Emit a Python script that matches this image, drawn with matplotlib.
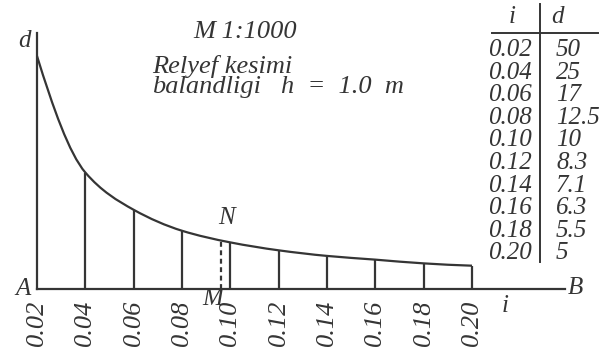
import numpy as np
import matplotlib.pyplot as plt
from matplotlib.path import Path
from matplotlib.patches import PathPatch
from matplotlib.lines import Line2D

# slope i and distance d for section height h = 1.0 m (table in the figure)
i_vals = [0.02, 0.04, 0.06, 0.08, 0.10, 0.12, 0.14, 0.16, 0.18, 0.20]
d_vals = [50, 25, 17, 12.5, 10, 8.3, 7.1, 6.3, 5.5, 5]
i_labels = ["0.02", "0.04", "0.06", "0.08", "0.10", "0.12", "0.14", "0.16", "0.18", "0.20"]
d_labels = ["50", "25", "17", "12.5", "10", "8.3", "7.1", "6.3", "5.5", "5"]
# point M on the i axis and N on the curve
mn_i = 0.096
mn_d = 10.4

INK = "#353535"
W, H = 609, 355
FONT = dict(family="Liberation Serif", style="italic", color=INK)


def fxy(px, py):
    # pixel position (from top left) -> figure fraction
    return px / W, 1 - py / H


def pchip_slopes(x, y):
    h = np.diff(x)
    dl = np.diff(y) / h
    m = np.zeros_like(y)
    for k in range(1, len(y) - 1):
        if dl[k - 1] * dl[k] > 0:
            w1 = 2 * h[k] + h[k - 1]
            w2 = h[k] + 2 * h[k - 1]
            m[k] = (w1 + w2) / (w1 / dl[k - 1] + w2 / dl[k])
    m[0] = ((2 * h[0] + h[1]) * dl[0] - h[0] * dl[1]) / (h[0] + h[1])
    m[-1] = ((2 * h[-1] + h[-2]) * dl[-1] - h[-1] * dl[-2]) / (h[-1] + h[-2])
    return m


def smooth_path(x, y):
    x = np.asarray(x, float)
    y = np.asarray(y, float)
    m = pchip_slopes(x, y)
    verts = [(x[0], y[0])]
    codes = [Path.MOVETO]
    for k in range(len(x) - 1):
        h = x[k + 1] - x[k]
        verts += [(x[k] + h / 3, y[k] + m[k] * h / 3),
                  (x[k + 1] - h / 3, y[k + 1] - m[k + 1] * h / 3),
                  (x[k + 1], y[k + 1])]
        codes += [Path.CURVE4] * 3
    return Path(verts, codes)


fig = plt.figure(figsize=(W / 100, H / 100), dpi=100)
fig.patch.set_facecolor("white")

x0, y0 = fxy(37, 289)
x1, y1 = fxy(565, 33)
ax = fig.add_axes([x0, y0, x1 - x0, y1 - y0])
ax.set_xlim(0.02, 0.02 + (565 - 37) / 2416.7)
ax.set_ylim(0, (289 - 33) / 4.66)
ax.set_facecolor("none")

for s in ["top", "right"]:
    ax.spines[s].set_visible(False)
for s in ["left", "bottom"]:
    ax.spines[s].set_color(INK)
    ax.spines[s].set_linewidth(1.6)

ax.set_yticks([])
ax.set_xticks(i_vals)
ax.set_xticklabels(i_labels, rotation=90, fontsize=19, **FONT)
ax.tick_params(axis="x", length=0, pad=8)

# curve d(i)
ax.add_patch(PathPatch(smooth_path(i_vals, d_vals), fill=False,
                       edgecolor=INK, lw=1.6, clip_on=False))
# ordinates
ax.vlines(i_vals[1:], 0, d_vals[1:], color=INK, lw=1.6)
ax.vlines(mn_i, 0, mn_d, color=INK, lw=1.6, linestyles=(0, (2.2, 1.6)))

# point labels
ax.annotate("N", (mn_i, mn_d), xytext=(4, 16), textcoords="offset points",
            ha="center", va="center", fontsize=18, **FONT)
ax.annotate("M", (mn_i, 0), xytext=(-6, -7), textcoords="offset points",
            ha="center", va="center", fontsize=18, **FONT)
ax.text(-0.012, 0.0, "A", transform=ax.transAxes, ha="right", va="center",
        fontsize=18, **FONT)
ax.text(1.005, 0.005, "B", transform=ax.transAxes, ha="left", va="center",
        fontsize=18, **FONT)
ax.text(0.887, -0.065, "i", transform=ax.transAxes, ha="center", va="center",
        fontsize=18, **FONT)
ax.text(-0.012, 0.97, "d", transform=ax.transAxes, ha="right", va="center",
        fontsize=18, **FONT)

# title block
fig.text(*fxy(193, 32), "M 1:1000", ha="left", va="center", fontsize=19, **FONT)
fig.text(*fxy(152, 66), "Relyef kesimi", ha="left", va="center", fontsize=19, **FONT)
fig.text(*fxy(152, 87), "balandligi", ha="left", va="center", fontsize=19, **FONT)
fig.text(*fxy(281, 87), "h  =  1.0  m", ha="left", va="center", fontsize=19, **FONT)

# table i | d
fig.text(*fxy(512, 17), "i", ha="center", va="center", fontsize=18, **FONT)
fig.text(*fxy(557, 17), "d", ha="center", va="center", fontsize=18, **FONT)
fig.add_artist(Line2D(*zip(fxy(492, 33), fxy(598, 33)), color=INK, lw=1.4))
fig.add_artist(Line2D(*zip(fxy(540, 4), fxy(540, 262)), color=INK, lw=1.4))
row_top, row_step = 50, 22.6
for k, (il, dl) in enumerate(zip(i_labels, d_labels)):
    py = row_top + k * row_step
    fig.text(*fxy(532, py), il, ha="right", va="center", fontsize=18, **FONT)
    fig.text(*fxy(556, py), dl, ha="left", va="center", fontsize=18, **FONT)

fig.savefig("out.png", dpi=100, facecolor="white")
